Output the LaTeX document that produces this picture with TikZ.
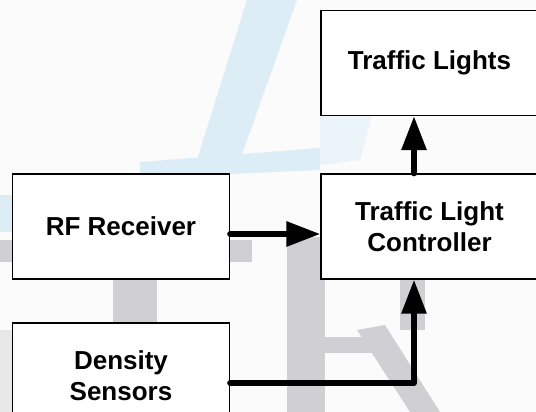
\documentclass[tikz,border=0pt]{standalone}
\usepackage{fontspec}
\setmainfont{Liberation Sans}
\usetikzlibrary{arrows.meta}
\definecolor{wmblue}{RGB}{220,237,245}
\definecolor{wmgray}{RGB}{208,208,212}
\tikzset{
  box/.style={draw=black, line width=1.3pt, fill=white, minimum width=217pt, minimum height=105pt, inner sep=0pt, align=center, font=\fontsize{26}{31}\selectfont\bfseries},
  conn/.style={line width=6pt, line cap=round, line join=round, -{Triangle[length=34pt,width=24pt]}}
}
\begin{document}
\begin{tikzpicture}[x=1pt,y=1pt]
\useasboundingbox (0,0) rectangle (536,-412);
\clip (0,0) rectangle (536,-412);
\fill[white!97!gray] (0,0) rectangle (536,-412);
% watermark (faint)
\fill[wmblue] (247,0) -- (297,0) -- (240,-160) -- (197,-160) -- cycle;
\fill[wmblue] (140,-162) -- (320,-148) -- (320,-170) -- (140,-178) -- cycle;
\fill[wmblue] (0,-195) rectangle (13,-232);
\fill[wmblue!60!white] (320,-115) -- (372,-115) -- (360,-160) -- (320,-165) -- cycle;
\fill[wmgray] (0,-240) rectangle (13,-262);
\fill[wmgray] (229,-240) rectangle (252,-262);
\fill[wmgray] (113,-279) rectangle (157,-323);
\fill[wmgray] (287,-237) rectangle (321,-412);
\fill[wmgray] (287,-279) rectangle (325,-412);
\fill[wmgray] (325,-337) rectangle (372,-353);
\fill[wmgray] (357,-330) -- (385,-325) -- (440,-412) -- (410,-412) -- cycle;
\fill[wmgray] (400,-279) rectangle (425,-330);
\fill[wmgray!50!white] (0,-330) rectangle (13,-412);
% boxes
\node[box] (TL) at (429.5,-63) {Traffic Lights};
\node[box] (TLC) at (429.5,-226.5) {Traffic Light\\Controller};
\node[box] (RF) at (121,-226.5) {RF Receiver};
\node[box] (DS) at (121,-375.5) {Density\\Sensors};
% connectors
\draw[conn] ([yshift=-7.5pt]RF.east) -- ([yshift=-7.5pt]TLC.west);
\draw[conn] ([xshift=-15.5pt]TLC.north) -- ([xshift=-15.5pt]TL.south);
\draw[conn] ([yshift=-7.5pt]DS.east) -| ([xshift=-15.5pt]TLC.south);
\end{tikzpicture}
\end{document}
